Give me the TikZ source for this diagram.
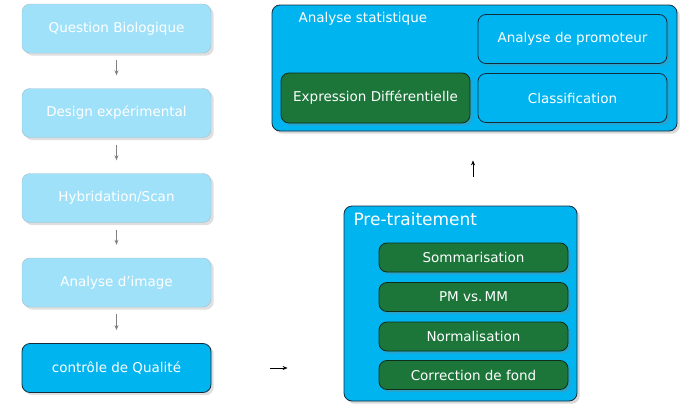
\documentclass[tikz,border=0pt]{standalone}
\usepackage{fontspec}
\setmainfont{DejaVu Sans}
\usetikzlibrary{shadows,arrows.meta}

\definecolor{paleblue}{RGB}{160,225,250}
\definecolor{paleedge}{RGB}{160,190,205}
\definecolor{brightblue}{RGB}{0,180,240}
\definecolor{darkedge}{RGB}{20,45,60}
\definecolor{darkgreen}{RGB}{28,118,58}
\definecolor{greenedge}{RGB}{15,45,25}

\begin{document}
\begin{tikzpicture}[x=1pt, y=-1pt,
  step box/.style = {shape=rectangle, rounded corners=8pt, draw=paleedge,
    fill=paleblue, text=white, minimum width=189pt, minimum height=49pt,
    font=\fontsize{13.5}{16}\selectfont, drop shadow={opacity=0.25}},
  active box/.style = {step box, draw=darkedge, line width=0.8pt, fill=brightblue},
  green box/.style = {shape=rectangle, rounded corners=8pt, draw=greenedge,
    line width=0.8pt, fill=darkgreen, text=white,
    font=\fontsize{13.5}{16}\selectfont, drop shadow={opacity=0.3}},
  group box/.style = {shape=rectangle, rounded corners=8pt, draw=darkedge,
    line width=0.8pt, fill=brightblue, drop shadow={opacity=0.3}},
  link/.style = {-{Stealth[length=5pt,width=4pt]}, gray, thick},
  black link/.style = {-{Stealth[length=5pt,width=4pt]}, black, thick}]
  \useasboundingbox (0,0) rectangle (681,407);

  % left column
  \node[step box] (question) at (116.5,28.5) {Question Biologique};
  \node[step box] (design) at (116.5,113) {Design expérimental};
  \node[step box] (hybrid) at (116.5,198) {Hybridation/Scan};
  \node[step box] (image) at (116.5,282.5) {Analyse d'image};
  \node[active box] (qualite) at (116.5,368) {contrôle de Qualité};

  \draw[link, shorten <=7pt, shorten >=13pt] (question) -- (design);
  \draw[link, shorten <=7pt, shorten >=13pt] (design) -- (hybrid);
  \draw[link, shorten <=7pt, shorten >=13pt] (hybrid) -- (image);
  \draw[link, shorten <=7pt, shorten >=13pt] (image) -- (qualite);

  % statistics group
  \node[group box, minimum width=405pt, minimum height=126pt]
    (stat) at (474.5,68) {};
  \node[anchor=west, text=white, font=\fontsize{13.5}{16}\selectfont]
    (stattitle) at (295,19) {Analyse statistique};
  \node[active box] (promoteur) at (572.5,39) {Analyse de promoteur};
  \node[active box] (classif) at (572.5,98) {Classification};
  \node[green box, minimum width=189pt, minimum height=50pt]
    (expression) at (375.5,98) {Expression Différentielle};

  % preprocessing group
  \node[group box, minimum width=233pt, minimum height=195pt]
    (pre) at (460.5,303.5) {};
  \node[anchor=west, text=white, font=\fontsize{17}{20}\selectfont]
    (pretitle) at (350,219) {Pre-traitement};
  \node[green box, minimum width=189pt, minimum height=29pt]
    (somm) at (473.5,257.5) {Sommarisation};
  \node[green box, minimum width=189pt, minimum height=29pt]
    (pmmm) at (473.5,297) {PM vs.\,MM};
  \node[green box, minimum width=189pt, minimum height=29pt]
    (norm) at (473.5,336.5) {Normalisation};
  \node[green box, minimum width=189pt, minimum height=29pt]
    (fond) at (473.5,375) {Correction de fond};

  \draw[black link, shorten <=59pt, shorten >=56pt]
    (qualite.east) -- (qualite.east -| pre.west);
  \coordinate (upfoot) at (473,206);
  \draw[black link, shorten <=29pt, shorten >=29pt]
    (upfoot) -- (upfoot |- stat.south);
\end{tikzpicture}
\end{document}
